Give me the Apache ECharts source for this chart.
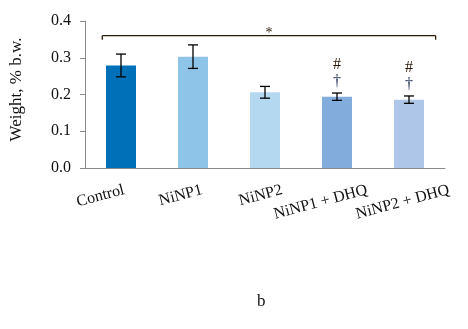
<!DOCTYPE html>
<html><head><meta charset="utf-8">
<script src="https://cdn.jsdelivr.net/npm/echarts@6/dist/echarts.min.js"></script>
<style>html,body{margin:0;padding:0;background:#fff}#c{width:468px;height:329px}</style>
</head><body><div id="c"></div>
<script>
var categories = ['Control', 'NiNP1', 'NiNP2', 'NiNP1 + DHQ', 'NiNP2 + DHQ'];
var values = [0.279, 0.303, 0.206, 0.194, 0.186];
var errors = [0.031, 0.032, 0.016, 0.010, 0.010];
var colors = ['#0070b8', '#8ec4e8', '#b4d8f0', '#82acdc', '#aec6e8'];
var yTicks = [0.0, 0.1, 0.2, 0.3, 0.4];
var bracketLevel = 0.36;
var annotations = [{cat: 3, top: '#', bottom: '\u2020'}, {cat: 4, top: '#', bottom: '\u2020'}];
// horizontal shift (px) of each rotated category label's right end from the category centre (style only)
var labelShift = [1, 7, 15, 28, 38];
var serif = '"Liberation Serif", "DejaVu Serif", serif';

var chart = echarts.init(document.getElementById('c'));
chart.setOption({
  animation: false,
  grid: {left: 83, right: 23, top: 21, bottom: 161},
  xAxis: {
    type: 'category', data: categories,
    axisLine: {lineStyle: {color: '#8a8a8a', width: 1}},
    axisTick: {alignWithLabel: false, length: 5, lineStyle: {color: '#8a8a8a'}},
    axisLabel: {show: false}
  },
  yAxis: {
    type: 'value', min: 0, max: 0.4, interval: 0.1,
    name: 'Weight, % b.w.', nameLocation: 'middle', nameGap: 60, nameRotate: 90,
    nameTextStyle: {fontFamily: serif, fontSize: 17, color: '#111', padding: [0, 0, 0, 10]},
    axisLine: {show: true, lineStyle: {color: '#8a8a8a'}},
    axisTick: {show: true, length: 5, lineStyle: {color: '#8a8a8a'}},
    splitLine: {show: false},
    axisLabel: {color: '#111', fontFamily: serif, fontSize: 16, margin: 14,
      formatter: function (v) { return v.toFixed(1); }}
  },
  graphic: [{type: 'text', left: 257, top: 293, style: {text: 'b', font: '17px ' + serif, fill: '#111'}}],
  series: [
    {
      type: 'bar', barWidth: 30,
      data: values.map(function (v, i) { return {value: v, itemStyle: {color: colors[i]}}; })
    },
    {
      type: 'custom', z: 5,
      data: values.map(function (v, i) { return [i, v - errors[i], v + errors[i]]; }),
      renderItem: function (params, api) {
        var lo = api.coord([api.value(0), api.value(1)]);
        var hi = api.coord([api.value(0), api.value(2)]);
        var w = 5;
        var st = {stroke: '#000', lineWidth: 1.3};
        return {type: 'group', children: [
          {type: 'line', shape: {x1: lo[0], y1: lo[1], x2: hi[0], y2: hi[1]}, style: st},
          {type: 'line', shape: {x1: lo[0] - w, y1: lo[1], x2: lo[0] + w, y2: lo[1]}, style: st},
          {type: 'line', shape: {x1: hi[0] - w, y1: hi[1], x2: hi[0] + w, y2: hi[1]}, style: st}
        ]};
      }
    },
    {
      type: 'custom', z: 5,
      data: [[0, bracketLevel]],
      renderItem: function (params, api) {
        var a = api.coord([0, api.value(1)]);
        var b = api.coord([categories.length - 1, api.value(1)]);
        var size = api.size([1, 0]);
        var x1 = a[0] - size[0] * 0.26, x2 = b[0] + size[0] * 0.37;
        var st = {stroke: '#2a1a08', lineWidth: 1.3};
        return {type: 'group', children: [
          {type: 'line', shape: {x1: x1, y1: a[1], x2: x2, y2: a[1]}, style: st},
          {type: 'line', shape: {x1: x1, y1: a[1], x2: x1, y2: a[1] + 4}, style: st},
          {type: 'line', shape: {x1: x2, y1: a[1], x2: x2, y2: a[1] + 4}, style: st},
          {type: 'text', style: {text: '*', x: (x1 + x2) / 2, y: a[1] - 2, align: 'center', verticalAlign: 'middle', font: '14px ' + serif, fill: '#2a1a08'}}
        ]};
      }
    },
    {
      type: 'custom', z: 5,
      data: annotations.map(function (a) { return [a.cat, values[a.cat] + errors[a.cat]]; }),
      renderItem: function (params, api) {
        var p = api.coord([api.value(0), api.value(1)]);
        var an = annotations[params.dataIndex];
        return {type: 'group', children: [
          {type: 'text', style: {text: an.bottom, x: p[0], y: p[1] - 11, align: 'center', verticalAlign: 'middle', font: '16px ' + serif, fill: '#1a2a50'}},
          {type: 'text', style: {text: an.top, x: p[0], y: p[1] - 28, align: 'center', verticalAlign: 'middle', font: '16px ' + serif, fill: '#2a1a08'}}
        ]};
      }
    },
    {
      type: 'custom', z: 5, silent: true,
      data: categories.map(function (c, i) { return [i, 0]; }),
      renderItem: function (params, api) {
        var p = api.coord([api.value(0), api.value(1)]);
        var i = params.dataIndex;
        return {type: 'text', x: p[0] + labelShift[i], y: p[1] + 14, rotation: 15 * Math.PI / 180,
          style: {text: categories[i], align: 'right', verticalAlign: 'top', font: '16px ' + serif, fill: '#111'}};
      }
    }
  ]
});
</script></body></html>
